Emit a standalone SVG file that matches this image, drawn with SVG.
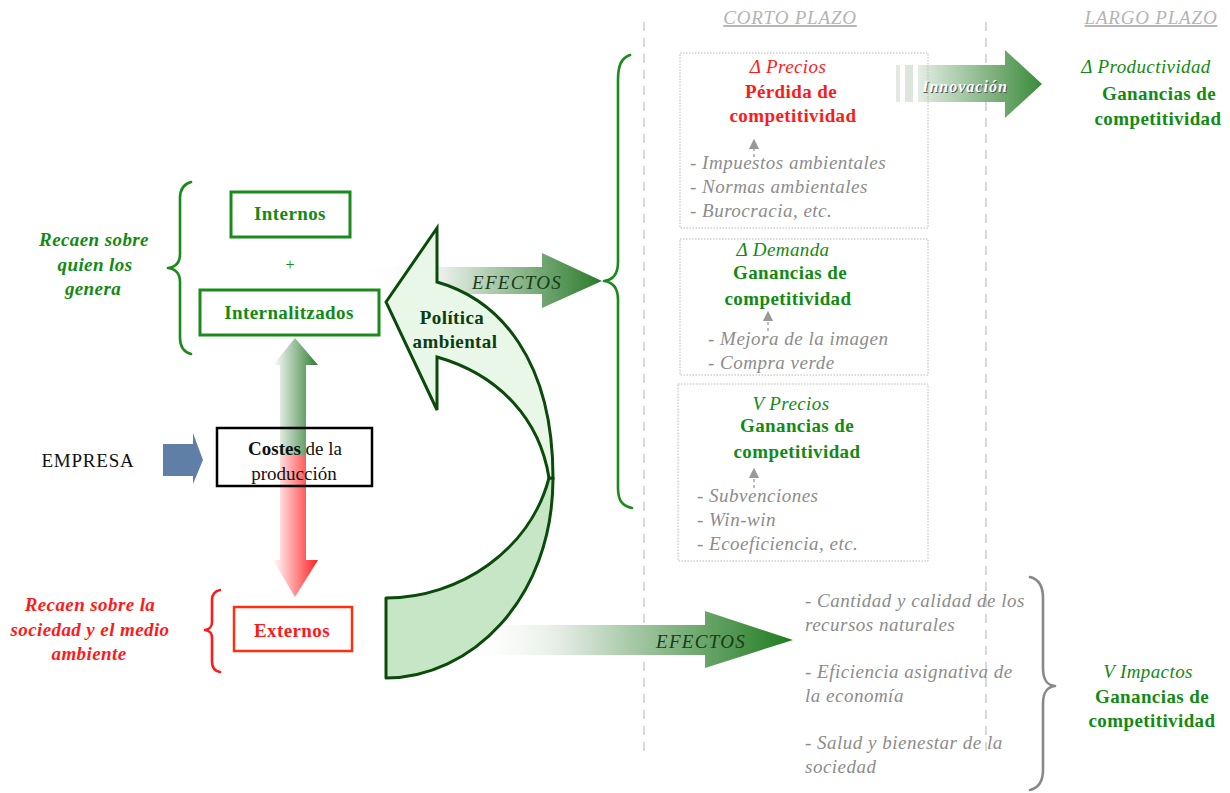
<svg xmlns="http://www.w3.org/2000/svg" width="1230" height="793" viewBox="0 0 1230 793">
<defs>
<style>
text{font-family:"Liberation Serif","Times New Roman",serif;}
.c{text-anchor:middle}
.b{font-weight:bold}
.i{font-style:italic}
.f19{font-size:19px;letter-spacing:0.4px}
.gray{fill:#8c8c8c}
.grn{fill:#138a13}
.red{fill:#ff1a1a}
.lst{font-style:italic;font-size:19px;fill:#8c8c8c;letter-spacing:0.5px}
.ttl{font-style:italic;font-size:19px;fill:#b4b4b4;letter-spacing:0.8px;text-decoration:underline}
.dbox{fill:none;stroke:#b8b8b8;stroke-width:1;stroke-dasharray:1.5 1.5}
.vdash{stroke:#d8d8d8;stroke-width:2;stroke-dasharray:9 7;fill:none}
.brace{fill:none;stroke-width:2.6;stroke-linecap:round;stroke-linejoin:round}
</style>
<linearGradient id="gUp" x1="273" y1="0" x2="318" y2="0" gradientUnits="userSpaceOnUse">
<stop offset="0" stop-color="#ffffff"/><stop offset="1" stop-color="#2e7d32"/></linearGradient>
<linearGradient id="gDn" x1="273" y1="0" x2="318" y2="0" gradientUnits="userSpaceOnUse">
<stop offset="0" stop-color="#ffffff"/><stop offset="1" stop-color="#ff2020"/></linearGradient>
<linearGradient id="gEf1" x1="360" y1="0" x2="602" y2="0" gradientUnits="userSpaceOnUse">
<stop offset="0" stop-color="#ffffff" stop-opacity="0"/><stop offset="0.35" stop-color="#e6eee6"/><stop offset="1" stop-color="#2a7a2a"/></linearGradient>
<linearGradient id="gEf2" x1="460" y1="0" x2="793" y2="0" gradientUnits="userSpaceOnUse">
<stop offset="0" stop-color="#ffffff" stop-opacity="0"/><stop offset="0.3" stop-color="#e4ece4"/><stop offset="1" stop-color="#1f7a1f"/></linearGradient>
<linearGradient id="gInn" x1="915" y1="0" x2="1042" y2="0" gradientUnits="userSpaceOnUse">
<stop offset="0" stop-color="#e8f0e8"/><stop offset="1" stop-color="#3a8a3a"/></linearGradient>
<marker id="sm" viewBox="0 0 8 8" refX="4" refY="4" markerWidth="8" markerHeight="8" orient="auto">
<path d="M0,0 L8,4 L0,8 Z" fill="#999"/></marker>
</defs>
<rect width="1230" height="793" fill="#ffffff"/>

<!-- column separators and titles -->
<g id="columns">
<line class="vdash" x1="644" y1="22" x2="644" y2="752"/>
<line class="vdash" x1="986" y1="22" x2="986" y2="752"/>
<text class="ttl c" x="790" y="24">CORTO PLAZO</text>
<text class="ttl c" x="1151" y="24">LARGO PLAZO</text>
</g>

<!-- connectors -->
<g id="connectors">
<!-- vertical double arrow -->
<path d="M295,338 L318,365 L306,365 L306,455 L280,455 L280,365 L273,365 Z" fill="url(#gUp)"/>
<path d="M280,455 L306,455 L306,560 L318,560 L295,597 L273,560 L280,560 Z" fill="url(#gDn)"/>
<!-- EMPRESA arrow -->
<path d="M163,444 L193,444 L193,433 L203,460 L193,484 L193,476 L163,476 Z" fill="#5f7fa6"/>
<!-- upper EFECTOS arrow -->
<path d="M360,267 L542,267 L542,253 L602,281 L542,308 L542,294 L360,294 Z" fill="url(#gEf1)"/>
<!-- lower EFECTOS arrow -->
<path d="M440,625 L705,625 L705,611 L793,640 L705,668 L705,655 L440,655 Z" fill="url(#gEf2)"/>
<!-- Innovación arrow -->
<rect x="896" y="65" width="4" height="37" fill="#e2e8e2"/>
<rect x="905" y="65" width="8" height="37" fill="#dde6dd"/>
<path d="M918,65 L1005,65 L1005,50 L1042,84 L1005,118 L1005,102 L918,102 Z" fill="url(#gInn)"/>
<!-- small dashed arrows inside boxes -->
<line x1="754" y1="157" x2="754" y2="144" stroke="#999" stroke-width="1.3" stroke-dasharray="3 3" marker-end="url(#sm)"/>
<line x1="768" y1="331" x2="768" y2="316" stroke="#999" stroke-width="1.3" stroke-dasharray="3 3" marker-end="url(#sm)"/>
<line x1="754" y1="488" x2="754" y2="473" stroke="#999" stroke-width="1.3" stroke-dasharray="3 3" marker-end="url(#sm)"/>
<!-- braces -->
<path class="brace" stroke="#1a8a1a" d="M630,55 C621,58 618,66 618,80 L618,262 C618,274 613,280 604,281 C613,282 618,288 618,300 L618,488 C618,500 622,506 632,508"/>
<path class="brace" stroke="#1a8a1a" d="M191,182 C184,184 180,189 180,198 L180,254 C180,263 176,267 168,268 C176,269 180,273 180,282 L180,338 C180,347 184,352 191,354"/>
<path class="brace" stroke="#ff1a1a" d="M220,590 C215,591 212,594 212,600 L212,622 C212,627 210,629 205,630 C210,631 212,633 212,638 L212,662 C212,668 215,671 220,672"/>
<path class="brace" stroke="#888888" d="M1030,577 C1038,579 1043,585 1043,598 L1043,668 C1043,680 1047,685 1055,686 C1047,687 1043,692 1043,704 L1043,770 C1043,782 1038,788 1030,790"/>
</g>

<!-- Política ambiental curved arrow -->
<g id="politica">
<path d="M553,478 C553,600 470,678 386,678 L386,598 C460,598 530,550 549,478 Z" fill="#c6e6c6" stroke="#0a4a0a" stroke-width="3" stroke-linejoin="round"/>
<path d="M386,302 L437,228 L437,282 C500,300 553,360 553,478 L549,478 C540,420 500,375 437,357 L437,410 Z" fill="#e8f7e8" stroke="#0a4a0a" stroke-width="3" stroke-linejoin="miter"/>
<text class="b c f19" x="452" y="324" fill="#0d3d0d">Política</text>
<text class="b c f19" x="455" y="348" fill="#0d3d0d">ambiental</text>
</g>

<g id="efectos-labels">
<text class="i" x="472" y="289" font-size="19" letter-spacing="1.3" fill="#1a3a1a">EFECTOS</text>
<text class="i" x="656" y="648" font-size="19" letter-spacing="1.3" fill="#1a3a1a">EFECTOS</text>
<text class="i b c" x="966" y="93" font-size="16" letter-spacing="1" fill="#555555">Innovación</text>
<text class="i b c" x="965" y="92" font-size="16" letter-spacing="1" fill="#ffffff">Innovación</text>
</g>

<!-- left nodes -->
<g id="recaen-genera">
<text class="i b c f19 grn" x="94" y="246">Recaen sobre</text>
<text class="i b c f19 grn" x="95" y="271">quien los</text>
<text class="i b c f19 grn" x="93" y="295">genera</text>
</g>
<g id="internos">
<rect x="231" y="192" width="119" height="45" fill="none" stroke="#1a8a1a" stroke-width="3"/>
<text class="b c f19 grn" x="290" y="220">Internos</text>
</g>
<g id="plus"><text class="c grn" x="290" y="270" font-size="16">+</text></g>
<g id="internalitzados">
<rect x="200" y="290" width="179" height="45" fill="none" stroke="#1a8a1a" stroke-width="3"/>
<text class="b c f19 grn" x="289" y="319">Internalitzados</text>
</g>
<g id="empresa"><text class="c" x="88" y="467" font-size="19" letter-spacing="0.8" fill="#111">EMPRESA</text></g>
<g id="costes">
<rect x="217" y="428" width="155" height="58" fill="none" stroke="#000" stroke-width="2.5"/>
<text class="c" x="295" y="455" font-size="19" fill="#111"><tspan font-weight="bold">Costes</tspan> de la</text>
<text class="c" x="294" y="480" font-size="19" fill="#111">producción</text>
</g>
<g id="recaen-sociedad">
<text class="i b c f19 red" x="90" y="611">Recaen sobre la</text>
<text class="i b c f19 red" x="90" y="636">sociedad y el medio</text>
<text class="i b c f19 red" x="89" y="660">ambiente</text>
</g>
<g id="externos">
<rect x="234" y="607" width="118" height="44" fill="none" stroke="#ff3010" stroke-width="2.5"/>
<text class="b c f19 red" x="292" y="637">Externos</text>
</g>

<!-- short-term boxes -->
<g id="box-precios">
<rect class="dbox" x="680" y="53" width="248" height="175"/>
<text class="i c f19 red" x="788" y="73">Δ Precios</text>
<text class="b c f19 red" x="791" y="98">Pérdida de</text>
<text class="b c f19 red" x="793" y="122">competitividad</text>
<text class="lst" x="690" y="169">- Impuestos ambientales</text>
<text class="lst" x="690" y="193">- Normas ambientales</text>
<text class="lst" x="690" y="217">- Burocracia, etc.</text>
</g>
<g id="box-demanda">
<rect class="dbox" x="680" y="239" width="248" height="136"/>
<text class="i c f19 grn" x="783" y="256">Δ Demanda</text>
<text class="b c f19 grn" x="790" y="279">Ganancias de</text>
<text class="b c f19 grn" x="788" y="305">competitividad</text>
<text class="lst" x="708" y="345">- Mejora de la imagen</text>
<text class="lst" x="708" y="369">- Compra verde</text>
</g>
<g id="box-vprecios">
<rect class="dbox" x="678" y="384" width="250" height="177"/>
<text class="i c f19 grn" x="791" y="410">V Precios</text>
<text class="b c f19 grn" x="797" y="432">Ganancias de</text>
<text class="b c f19 grn" x="797" y="458">competitividad</text>
<text class="lst" x="697" y="502">- Subvenciones</text>
<text class="lst" x="697" y="526">- Win-win</text>
<text class="lst" x="697" y="550">- Ecoeficiencia, etc.</text>
</g>

<!-- long-term -->
<g id="productividad">
<text class="i c f19 grn" x="1146" y="73">Δ Productividad</text>
<text class="b c f19 grn" x="1159" y="100">Ganancias de</text>
<text class="b c f19 grn" x="1158" y="125">competitividad</text>
</g>
<g id="impactos-list">
<text class="lst" x="805" y="607">- Cantidad y calidad de los</text>
<text class="lst" x="805" y="631">recursos naturales</text>
<text class="lst" x="805" y="678">- Eficiencia asignativa de</text>
<text class="lst" x="805" y="702">la economía</text>
<text class="lst" x="805" y="749">- Salud y bienestar de la</text>
<text class="lst" x="805" y="773">sociedad</text>
</g>
<g id="impactos">
<text class="i c f19 grn" x="1148" y="678">V Impactos</text>
<text class="b c f19 grn" x="1152" y="703">Ganancias de</text>
<text class="b c f19 grn" x="1152" y="727">competitividad</text>
</g>
</svg>
